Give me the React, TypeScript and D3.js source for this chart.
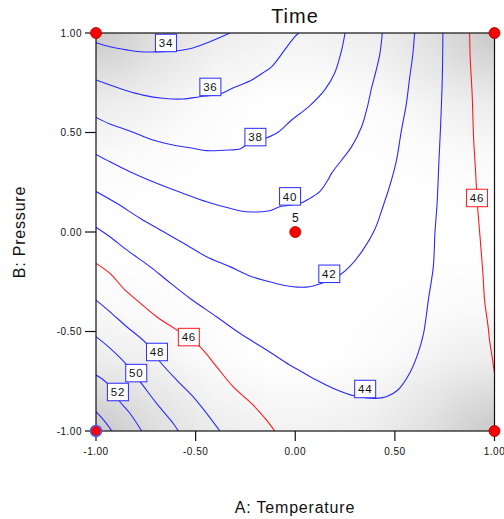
import React from 'react';
import * as d3 from 'd3';

type Pt = [number, number];

// Axis ticks
const xTicks = [-1, -0.5, 0, 0.5, 1];
const yTicks = [-1, -0.5, 0, 0.5, 1];
const tickLabels = ['-1.00', '-0.50', '0.00', '0.50', '1.00'];

// Contour lines, in (A: Temperature, B: Pressure) coded units
const c34: Pt[] = [[-1.0, 0.951], [-0.93, 0.931], [-0.845, 0.915], [-0.779, 0.906], [-0.694, 0.905], [-0.594, 0.911], [-0.514, 0.925], [-0.429, 0.956], [-0.328, 1.0]];
const c36: Pt[] = [[-1.0, 0.764], [-0.93, 0.739], [-0.845, 0.71], [-0.764, 0.688], [-0.664, 0.672], [-0.564, 0.668], [-0.479, 0.68], [-0.378, 0.693], [-0.313, 0.724], [-0.218, 0.764], [-0.153, 0.806], [-0.118, 0.831], [-0.053, 0.915], [-0.003, 0.981], [0.018, 1.0]];
const c38: Pt[] = [[-1.0, 0.576], [-0.93, 0.543], [-0.845, 0.513], [-0.779, 0.487], [-0.714, 0.462], [-0.614, 0.437], [-0.514, 0.421], [-0.444, 0.409], [-0.328, 0.412], [-0.278, 0.417], [-0.245, 0.437], [-0.148, 0.471], [-0.083, 0.504], [-0.018, 0.563], [0.068, 0.63], [0.148, 0.714], [0.198, 0.799], [0.233, 0.915], [0.25, 1.0]];
const c40: Pt[] = [[-1.0, 0.39], [-0.93, 0.353], [-0.83, 0.303], [-0.696, 0.245], [-0.562, 0.194], [-0.445, 0.152], [-0.328, 0.119], [-0.245, 0.102], [-0.128, 0.107], [-0.078, 0.127], [0.026, 0.144], [0.073, 0.169], [0.123, 0.203], [0.164, 0.261], [0.183, 0.296], [0.233, 0.362], [0.283, 0.429], [0.333, 0.529], [0.363, 0.633], [0.383, 0.724], [0.404, 0.804], [0.424, 0.891], [0.437, 1.0]];
const c42: Pt[] = [[-1.0, 0.203], [-0.896, 0.144], [-0.779, 0.069], [-0.663, 0.002], [-0.545, -0.065], [-0.445, -0.124], [-0.328, -0.174], [-0.228, -0.221], [-0.128, -0.25], [-0.011, -0.275], [0.073, -0.275], [0.123, -0.261], [0.223, -0.216], [0.273, -0.174], [0.34, -0.09], [0.398, 0.01], [0.44, 0.127], [0.474, 0.231], [0.507, 0.355], [0.532, 0.506], [0.557, 0.64], [0.574, 0.774], [0.59, 0.891], [0.599, 1.0]];
const c44: Pt[] = [[-1.0, 0.024], [-0.93, -0.024], [-0.846, -0.09], [-0.729, -0.174], [-0.646, -0.241], [-0.529, -0.333], [-0.395, -0.426], [-0.278, -0.509], [-0.144, -0.593], [-0.028, -0.668], [0.023, -0.697], [0.106, -0.744], [0.189, -0.785], [0.298, -0.824], [0.404, -0.836], [0.457, -0.828], [0.515, -0.794], [0.574, -0.71], [0.616, -0.61], [0.644, -0.509], [0.657, -0.426], [0.668, -0.342], [0.693, -0.174], [0.701, -0.007], [0.712, 0.146], [0.721, 0.355], [0.729, 0.523], [0.738, 0.774], [0.741, 1.0]];
const c46a: Pt[] = [[-1.0, -0.158], [-0.93, -0.208], [-0.855, -0.291], [-0.796, -0.342], [-0.696, -0.426], [-0.595, -0.492], [-0.479, -0.576], [-0.395, -0.677], [-0.312, -0.777], [-0.212, -0.869], [-0.144, -0.945], [-0.103, -1.0]];
const c46b: Pt[] = [[0.875, 1.0], [0.878, 0.874], [0.888, 0.69], [0.895, 0.472], [0.905, 0.305], [0.91, 0.211], [0.915, 0.127], [0.926, -0.007], [0.943, -0.225], [0.95, -0.342], [0.968, -0.476], [0.975, -0.543], [0.988, -0.627], [1.0, -0.71]];
const c48: Pt[] = [[-1.0, -0.342], [-0.93, -0.401], [-0.846, -0.476], [-0.749, -0.558], [-0.679, -0.652], [-0.595, -0.744], [-0.512, -0.828], [-0.445, -0.911], [-0.378, -1.0]];
const c50: Pt[] = [[-1.0, -0.526], [-0.93, -0.584], [-0.85, -0.663], [-0.779, -0.752], [-0.696, -0.861], [-0.613, -0.961], [-0.587, -1.0]];
const c52: Pt[] = [[-1.0, -0.719], [-0.945, -0.759], [-0.88, -0.853], [-0.83, -0.911], [-0.771, -1.0]];
const c54: Pt[] = [[-1.0, -0.903], [-0.955, -0.953], [-0.921, -1.0]];

const contourLevels = [34, 36, 38, 40, 42, 44, 46, 46, 48, 50, 52, 54];
const contourPaths = [c34, c36, c38, c40, c42, c44, c46a, c46b, c48, c50, c52, c54];
const contourColors = ['#2a2aff', '#2a2aff', '#2a2aff', '#2a2aff', '#2a2aff', '#2a2aff', '#ff1a1a', '#ff1a1a', '#2a2aff', '#2a2aff', '#2a2aff', '#2a2aff'];
// Label anchor per contour (null = unlabeled)
const contourLabelPos: (Pt | null)[] = [[-0.649, 0.95], [-0.426, 0.729], [-0.2, 0.477], [-0.026, 0.179], [0.171, -0.21], [0.351, -0.789], [-0.534, -0.528], [0.912, 0.171], [-0.694, -0.603], [-0.798, -0.709], [-0.89, -0.804], null];

// Design points
const designX = [-1, 1, -1, 1, 0];
const designY = [1, 1, -1, -1, 0];
const designLabel = ['', '', '', '', '5'];
const designRing = [false, false, true, false, false];

export default function App() {
  const W = 504, H = 519;
  const x = d3.scaleLinear().domain([-1, 1]).range([96, 494.5]);
  const y = d3.scaleLinear().domain([-1, 1]).range([431, 33]);
  const line = d3.line<Pt>().x(d => x(d[0])).y(d => y(d[1])).curve(d3.curveCatmullRom.alpha(0.5));
  const x0 = x(-1), x1 = x(1), yT = y(1), yB = y(-1);
  const corners: Pt[] = [[x0, yT], [x1, yT], [x0, yB], [x1, yB]];
  const font = "'Liberation Sans', Arial, Helvetica, sans-serif";

  return (
    <svg width={W} height={H} style={{ position: 'absolute', left: 0, top: 0, background: '#fff' }} fontFamily={font}>
      <defs>
        <clipPath id="plotClip"><rect x={x0} y={yT} width={x1 - x0} height={yB - yT} /></clipPath>
        {corners.map(([cx, cy], i) => (
          <radialGradient key={i} id={`cg${i}`} gradientUnits="userSpaceOnUse" cx={cx} cy={cy} r={250}>
            <stop offset="0" stopColor="#000" stopOpacity={0.17} />
            <stop offset="0.25" stopColor="#000" stopOpacity={0.08} />
            <stop offset="0.5" stopColor="#000" stopOpacity={0.02} />
            <stop offset="0.75" stopColor="#000" stopOpacity={0} />
          </radialGradient>
        ))}
        <linearGradient id="tb" x1="0" y1="0" x2="0" y2="1">
          <stop offset="0" stopColor="#000" stopOpacity={0.05} />
          <stop offset="0.18" stopColor="#000" stopOpacity={0} />
          <stop offset="0.82" stopColor="#000" stopOpacity={0} />
          <stop offset="1" stopColor="#000" stopOpacity={0.05} />
        </linearGradient>
      </defs>

      {/* shaded background */}
      <g clipPath="url(#plotClip)">
        <rect x={x0} y={yT} width={x1 - x0} height={yB - yT} fill="#fff" />
        {corners.map((_, i) => (
          <rect key={i} x={x0} y={yT} width={x1 - x0} height={yB - yT} fill={`url(#cg${i})`} />
        ))}
        <rect x={x0} y={yT} width={x1 - x0} height={yB - yT} fill="url(#tb)" />
      </g>

      {/* contours */}
      <g clipPath="url(#plotClip)" fill="none">
        {contourPaths.map((p, i) => (
          <path key={i} d={line(p) || ''} stroke={contourColors[i]} strokeWidth={1.1} />
        ))}
      </g>

      {/* contour labels */}
      {contourLabelPos.map((pos, i) => pos ? (
        <g key={i} transform={`translate(${x(pos[0])},${y(pos[1])})`}>
          <rect x={-10.5} y={-8.75} width={21} height={17.5} fill="#fff" stroke={contourColors[i]} strokeWidth={1} />
          <text textAnchor="middle" dy="0.36em" fontSize={11.5} letterSpacing={0.8} fill="#111">{contourLevels[i]}</text>
        </g>
      ) : null)}

      {/* frame */}
      <rect x={x0} y={yT} width={x1 - x0} height={yB - yT} fill="none" stroke="#111" strokeWidth={1.2} />

      {/* x axis ticks */}
      {xTicks.map((t, i) => (
        <g key={i}>
          <line x1={x(t)} x2={x(t)} y1={yB} y2={yB + 10} stroke="#111" strokeWidth={1.2} />
          <text x={x(t)} y={455} textAnchor="middle" fontSize={10} letterSpacing={0.5} fill="#111">{tickLabels[i]}</text>
        </g>
      ))}
      {/* y axis ticks */}
      {yTicks.map((t, i) => (
        <g key={i}>
          <line x1={x0 - 11} x2={x0} y1={y(t)} y2={y(t)} stroke="#111" strokeWidth={1.2} />
          <text x={82} y={y(t)} dy="0.36em" textAnchor="end" fontSize={10} letterSpacing={0.5} fill="#111">{tickLabels[i]}</text>
        </g>
      ))}

      {/* design points */}
      {designX.map((dx, i) => (
        <g key={i}>
          <circle cx={x(dx)} cy={y(designY[i])} r={5.5} fill="#ff0000" stroke={designRing[i] ? '#4060ff' : '#a00000'} strokeWidth={designRing[i] ? 1.5 : 0.8} />
          {designLabel[i] ? (
            <text x={x(dx)} y={y(designY[i]) - 10} textAnchor="middle" fontSize={12} fill="#111">{designLabel[i]}</text>
          ) : null}
        </g>
      ))}

      {/* titles */}
      <text x={295} y={23} textAnchor="middle" fontSize={20} letterSpacing={1} fill="#111">Time</text>
      <text x={295} y={513} textAnchor="middle" fontSize={16} letterSpacing={0.8} fill="#111">A: Temperature</text>
      <text transform={`translate(25,232) rotate(-90)`} textAnchor="middle" fontSize={16} letterSpacing={0.8} fill="#111">B: Pressure</text>
    </svg>
  );
}
